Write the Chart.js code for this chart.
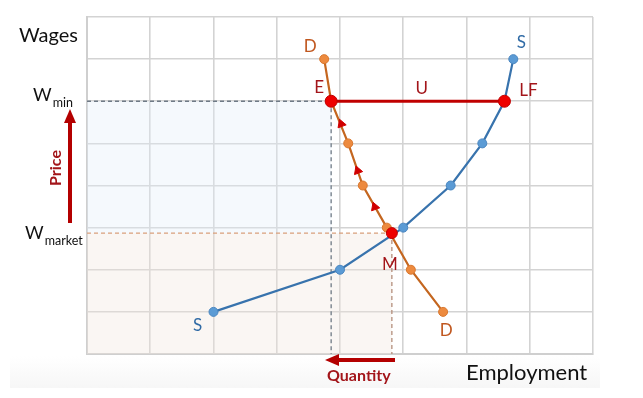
<!DOCTYPE html>
<html>
<head>
<meta charset="utf-8">
<script src="https://cdn.jsdelivr.net/npm/chart.js@4/dist/chart.umd.min.js"></script>
<style>
  html, body { margin: 0; padding: 0; background: #fff; }
  #wrap { width: 643px; height: 398px; }
</style>
</head>
<body>
<div id="wrap"><canvas id="lohnChart" width="643" height="398"></canvas></div>
<script>
// labour market: supply (S) and demand (D) for work
const supplyX = [2.0, 4.0, 5.0, 5.75, 6.25, 6.6, 6.74];
const supplyY = [1, 2, 3, 4, 5, 6, 7];
const demandX = [3.75, 3.86, 4.13, 4.36, 4.74, 5.12, 5.63];
const demandY = [7, 6, 5, 4, 3, 2, 1];

const wMin = 6;          // minimum wage
const wMarket = 2.87;    // market wage
const qMin = 3.86;       // employment at E
const qLabourForce = 6.6; // LF
const qMarket = 4.82;    // employment at M

// little arrows on the demand curve
const arrowX = [4.02, 4.28, 4.55];
const arrowY = [5.46, 4.35, 3.49];

const toPts = (xs, ys) => xs.map((x, i) => ({ x: x, y: ys[i] }));

const darkRed = '#a3151a';
const blueTxt = '#2f6aa5';
const orangeTxt = '#c0571f';
const FONT = 'Lato, "Open Sans", sans-serif';

// shaded areas and dashed guides (under the curves)
const bgPlugin = {
  id: 'bgAreas',
  beforeDraw(chart) {
    const ctx = chart.ctx;
    // faint shadow band below the grid
    const g = ctx.createLinearGradient(0, 356, 0, 390);
    g.addColorStop(0, '#ffffff');
    g.addColorStop(1, '#f6f6f6');
    ctx.save();
    ctx.fillStyle = g;
    ctx.fillRect(10, 356, 590, 32);
    ctx.restore();
  },
  beforeDatasetsDraw(chart) {
    const ctx = chart.ctx;
    const xs = chart.scales.x, ys = chart.scales.y;
    const left = xs.getPixelForValue(0);
    const bottom = ys.getPixelForValue(0);
    const yMin = ys.getPixelForValue(wMin);
    const yMar = ys.getPixelForValue(wMarket);
    const xE = xs.getPixelForValue(qMin);
    const xM = xs.getPixelForValue(qMarket);
    ctx.save();
    ctx.fillStyle = 'rgba(225,238,250,0.35)';
    ctx.fillRect(left, yMin, xE - left, yMar - yMin);
    ctx.fillStyle = 'rgba(240,228,220,0.35)';
    ctx.fillRect(left, yMar, xM - left, bottom - yMar);

    ctx.setLineDash([4, 3]);
    ctx.lineWidth = 1.3;
    ctx.strokeStyle = '#6f7a86';
    ctx.beginPath();
    ctx.moveTo(left, yMin); ctx.lineTo(xE, yMin);
    ctx.moveTo(xE, yMin); ctx.lineTo(xE, bottom);
    ctx.stroke();
    ctx.strokeStyle = '#d9a07c';
    ctx.beginPath();
    ctx.moveTo(left, yMar); ctx.lineTo(xM, yMar);
    ctx.stroke();
    ctx.strokeStyle = '#b48e7c';
    ctx.beginPath();
    ctx.moveTo(xM, yMar); ctx.lineTo(xM, bottom);
    ctx.stroke();
    ctx.restore();
  }
};

// all the texts and the two big red arrows
const textPlugin = {
  id: 'texts',
  afterDraw(chart) {
    const ctx = chart.ctx;
    const xs = chart.scales.x, ys = chart.scales.y;
    const px = v => xs.getPixelForValue(v);
    const py = v => ys.getPixelForValue(v);
    ctx.save();
    ctx.textBaseline = 'middle';
    ctx.textAlign = 'center';

    function lbl(t, x, y, col, size) {
      ctx.font = (size || 17) + 'px ' + FONT;
      ctx.fillStyle = col;
      ctx.fillText(t, x, y);
    }
    lbl('D', px(demandX[0]) - 14, py(demandY[0]) - 13, orangeTxt);
    lbl('E', px(qMin) - 12, py(wMin) - 14, darkRed);
    lbl('U', (px(qMin) + px(qLabourForce)) / 2 + 4, py(wMin) - 13, darkRed);
    lbl('LF', px(qLabourForce) + 24, py(wMin) - 11, darkRed);
    lbl('S', px(supplyX[6]) + 8, py(supplyY[6]) - 17, blueTxt);
    lbl('S', px(supplyX[0]) - 16, py(supplyY[0]) + 14, blueTxt);
    lbl('M', px(qMarket) - 2, py(wMarket) + 31, darkRed);
    lbl('D', px(demandX[6]) + 3, py(demandY[6]) + 19, orangeTxt);

    // axis words
    ctx.textAlign = 'left';
    ctx.textBaseline = 'alphabetic';
    ctx.fillStyle = '#111';
    ctx.font = '20px ' + FONT;
    ctx.fillText('Wages', 19, 42);
    ctx.font = '22px ' + FONT;
    ctx.fillText('Employment', 466, 380);

    function wSub(x, y, sub) {
      ctx.font = '18px ' + FONT;
      ctx.fillText('W', x, y);
      const w = ctx.measureText('W').width;
      ctx.font = '12.5px ' + FONT;
      ctx.fillText(sub, x + w + 1, y + 6);
    }
    wSub(33, 101, 'min');
    wSub(25, 239, 'market');

    // Price arrow
    ctx.fillStyle = '#b40000';
    ctx.fillRect(68, 122, 4, 101);
    ctx.beginPath();
    ctx.moveTo(70, 109); ctx.lineTo(76, 123); ctx.lineTo(64, 123);
    ctx.closePath(); ctx.fill();
    ctx.save();
    ctx.translate(56, 168);
    ctx.rotate(-Math.PI / 2);
    ctx.textAlign = 'center';
    ctx.textBaseline = 'middle';
    ctx.font = 'bold 16px ' + FONT;
    ctx.fillStyle = darkRed;
    ctx.fillText('Price', 0, 0);
    ctx.restore();

    // Quantity arrow
    ctx.fillStyle = '#b40000';
    ctx.fillRect(337, 358, 58, 4);
    ctx.beginPath();
    ctx.moveTo(325, 360); ctx.lineTo(339, 354); ctx.lineTo(339, 366);
    ctx.closePath(); ctx.fill();
    ctx.font = 'bold 16px ' + FONT;
    ctx.fillStyle = darkRed;
    ctx.textAlign = 'left';
    ctx.fillText('Quantity', 327, 381);
    ctx.restore();
  }
};

const ctx = document.getElementById('lohnChart').getContext('2d');
const chart = new Chart(ctx, {
  type: 'scatter',
  data: {
    datasets: [
      {
        label: 'E, LF',
        data: [{ x: qMin, y: wMin }, { x: qLabourForce, y: wMin }],
        showLine: true,
        borderColor: '#c00000',
        borderWidth: 3,
        pointRadius: 6,
        pointBackgroundColor: '#ee0000',
        pointBorderColor: '#c00000',
        pointBorderWidth: 1
      },
      {
        label: 'M',
        data: [{ x: qMarket, y: wMarket }],
        pointRadius: 5.5,
        pointBackgroundColor: '#ee0000',
        pointBorderColor: '#c00000',
        pointBorderWidth: 1
      },
      {
        label: 'arrows',
        data: toPts(arrowX, arrowY),
        pointStyle: 'triangle',
        rotation: -20,
        pointRadius: 5,
        pointBackgroundColor: '#d00000',
        pointBorderColor: '#d00000',
        pointBorderWidth: 1
      },
      {
        label: 'D',
        data: toPts(demandX, demandY),
        showLine: true,
        borderColor: '#c4661f',
        borderWidth: 2.2,
        pointRadius: 4.5,
        pointBackgroundColor: '#ed8a3e',
        pointBorderColor: '#d8772e',
        pointBorderWidth: 1
      },
      {
        label: 'S',
        data: toPts(supplyX, supplyY),
        showLine: true,
        borderColor: '#3873ad',
        borderWidth: 2.2,
        pointRadius: 4.5,
        pointBackgroundColor: '#5b9bd5',
        pointBorderColor: '#4a86c0',
        pointBorderWidth: 1
      }
    ]
  },
  options: {
    responsive: false,
    animation: false,
    devicePixelRatio: 1,
    layout: { padding: { left: 87, top: 17, right: 50, bottom: 44 } },
    plugins: {
      legend: { display: false },
      tooltip: { enabled: false }
    },
    scales: {
      x: {
        type: 'linear',
        min: 0, max: 8,
        ticks: { display: false, stepSize: 1 },
        grid: { color: '#d3d3d3', lineWidth: 1.6, drawTicks: false },
        border: { color: '#cfcfcf', width: 2 }
      },
      y: {
        type: 'linear',
        min: 0, max: 8,
        ticks: { display: false, stepSize: 1 },
        grid: { color: '#d3d3d3', lineWidth: 1.6, drawTicks: false },
        border: { color: '#cfcfcf', width: 2 }
      }
    }
  },
  plugins: [bgPlugin, textPlugin]
});
</script>
</body>
</html>
